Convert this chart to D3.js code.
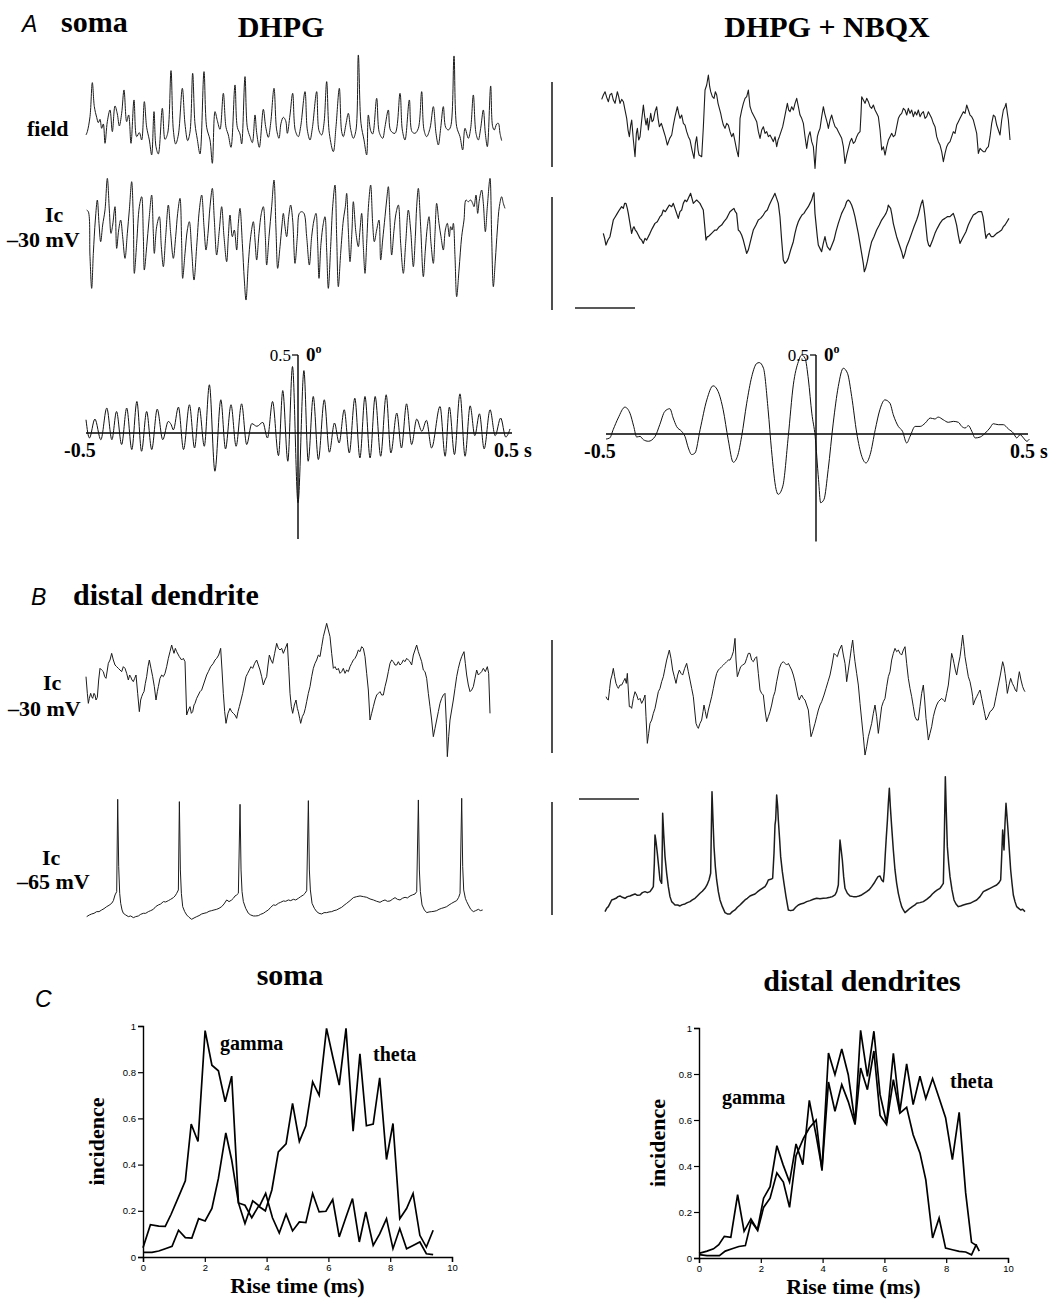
<!DOCTYPE html>
<html><head><meta charset="utf-8">
<script src="https://cdn.jsdelivr.net/npm/d3@7"></script>
<style>body{margin:0;background:#fff}svg{display:block}</style>
</head><body>
<svg id="fig" width="1058" height="1299"></svg>
<script>
// ---------- Recorded traces: [time (ms), amplitude (units, 3 per px)] ----------
const fieldDHPG = [[0,-5],[4,5],[12,50],[19,152],[25,80],[32,48],[37,32],[42,42],[47,15],[52,28],[57,-30],[64,35],[72,70],[79,5],[87,82],[94,58],[100,22],[107,60],[114,130],[122,35],[128,55],[135,-30],[144,100],[152,-10],[160,2],[167,-20],[175,95],[182,18],[190,-20],[197,-65],[204,65],[210,-40],[217,-62],[229,75],[237,-18],[245,0],[255,188],[262,10],[269,-32],[277,-5],[289,135],[297,28],[305,-22],[312,4],[320,180],[327,28],[334,-18],[342,-62],[354,185],[362,18],[372,-20],[379,-90],[387,65],[394,38],[402,12],[412,120],[420,18],[427,-5],[435,-42],[447,145],[454,18],[462,-2],[467,-32],[477,170],[484,18],[492,-10],[499,-28],[507,55],[512,2],[520,-42],[532,72],[539,20],[547,-12],[554,30],[564,135],[572,10],[579,-15],[585,30],[592,48],[599,38],[604,0],[612,55],[620,120],[628,8],[637,-10],[644,20],[657,125],[664,10],[672,-20],[679,15],[692,125],[699,8],[707,-5],[714,30],[722,155],[730,0],[742,-55],[750,20],[760,135],[767,5],[772,-10],[780,28],[787,60],[794,12],[802,-15],[810,10],[817,235],[825,30],[834,-20],[842,-65],[847,55],[854,8],[860,-2],[872,105],[880,2],[890,-15],[897,20],[907,70],[914,8],[927,0],[942,120],[949,10],[957,-20],[970,100],[978,5],[987,0],[997,15],[1007,125],[1014,10],[1022,-10],[1032,15],[1042,80],[1050,0],[1057,-35],[1064,15],[1072,80],[1079,18],[1087,10],[1094,20],[1104,232],[1112,20],[1122,-10],[1130,-50],[1137,15],[1147,-15],[1154,15],[1162,115],[1170,0],[1177,-20],[1184,15],[1192,70],[1198,0],[1204,-40],[1214,142],[1220,20],[1225,10],[1232,28],[1237,30],[1242,0],[1247,-22]];

const somaIcDHPG = [[2,80],[7,75],[12,-60],[17,-155],[22,-50],[28,50],[34,110],[39,40],[44,-15],[50,35],[57,80],[64,175],[70,80],[75,10],[80,35],[87,90],[92,-35],[98,20],[104,50],[110,0],[117,-65],[124,10],[130,80],[137,165],[142,50],[145,-110],[152,-20],[160,90],[167,120],[172,0],[175,-100],[182,-30],[189,50],[197,125],[202,10],[205,-50],[212,30],[220,60],[226,-30],[232,-90],[239,0],[247,95],[254,10],[262,-65],[269,0],[275,70],[282,115],[287,-20],[290,-125],[297,-50],[304,20],[310,45],[317,-40],[324,-130],[332,-30],[340,80],[347,125],[354,30],[360,-40],[366,10],[372,90],[379,145],[385,50],[392,-55],[400,20],[407,90],[414,0],[422,-75],[427,0],[432,65],[439,0],[445,20],[452,-40],[457,40],[462,85],[469,-20],[475,-130],[480,-190],[487,-80],[494,0],[502,45],[507,-10],[512,-70],[519,10],[526,70],[532,90],[538,0],[542,-85],[549,0],[557,90],[564,170],[570,20],[575,-95],[582,-30],[588,35],[592,70],[597,30],[602,0],[608,60],[614,95],[620,50],[627,-80],[634,0],[640,70],[647,75],[654,70],[662,0],[670,-85],[677,0],[684,50],[690,70],[695,-20],[699,-125],[705,-20],[712,40],[717,60],[722,-40],[727,-155],[734,-30],[740,90],[747,155],[752,0],[757,-150],[764,-50],[772,50],[778,90],[782,130],[787,20],[792,-75],[798,20],[802,105],[810,10],[817,-30],[822,20],[827,70],[832,-30],[837,-110],[842,-20],[848,100],[854,155],[860,40],[865,-15],[872,20],[879,50],[884,-70],[890,-10],[897,60],[902,110],[907,150],[912,50],[917,-55],[924,20],[930,70],[937,95],[944,-20],[952,-110],[959,-20],[967,80],[974,20],[982,-90],[988,0],[992,90],[997,145],[1004,30],[1012,-120],[1018,-40],[1024,30],[1029,60],[1035,-20],[1042,-80],[1047,10],[1052,100],[1059,40],[1065,0],[1072,-40],[1078,20],[1084,40],[1090,0],[1094,30],[1098,20],[1102,40],[1107,-60],[1112,-180],[1119,-100],[1127,0],[1134,50],[1140,110],[1147,105],[1154,110],[1160,100],[1164,90],[1170,125],[1175,70],[1180,110],[1187,140],[1192,100],[1198,15],[1204,90],[1212,175],[1217,0],[1222,-150],[1228,-70],[1234,20],[1240,90],[1247,120],[1252,100],[1257,85]];

const fieldNBQX = [[0,82],[5,95],[10,105],[15,88],[20,75],[25,96],[30,100],[35,80],[40,70],[47,105],[51,90],[55,70],[60,82],[65,75],[70,50],[75,25],[79,-10],[83,-30],[87,5],[90,20],[95,-40],[100,-90],[104,-20],[107,-5],[111,-40],[115,-30],[120,20],[125,65],[129,30],[133,5],[137,25],[140,-10],[147,40],[151,15],[155,20],[160,45],[165,60],[169,25],[173,0],[179,10],[185,-10],[191,-30],[197,-55],[204,-35],[210,-25],[215,5],[220,30],[227,60],[231,40],[235,25],[240,35],[245,10],[250,5],[255,-15],[260,-30],[265,-40],[271,-70],[277,-95],[281,-50],[285,-30],[289,-70],[292,-85],[300,-90],[305,0],[310,110],[315,125],[320,155],[324,120],[327,105],[332,90],[337,85],[341,105],[345,95],[349,70],[353,55],[357,40],[360,25],[365,5],[370,-5],[375,10],[380,5],[385,-15],[390,-30],[395,-20],[400,-45],[405,-70],[410,-90],[413,-40],[415,25],[420,50],[425,70],[430,85],[435,90],[440,110],[445,60],[450,45],[455,35],[460,25],[465,15],[470,-15],[475,-35],[480,-10],[485,0],[490,-20],[495,-15],[500,-30],[505,-25],[510,-35],[515,-45],[520,-30],[525,-60],[529,-40],[533,-30],[538,-15],[543,0],[547,20],[550,35],[554,55],[557,70],[561,50],[565,45],[570,60],[575,50],[580,70],[585,85],[590,60],[595,35],[600,25],[605,10],[610,-30],[615,-65],[620,-30],[625,-15],[630,-45],[635,-60],[640,-125],[644,-60],[647,-30],[651,-15],[655,-5],[660,30],[665,60],[669,40],[673,25],[677,10],[680,-5],[685,20],[690,35],[695,15],[700,0],[705,-5],[710,-15],[715,-25],[720,-35],[725,-60],[730,-110],[735,-85],[740,-65],[745,-45],[750,-35],[755,-50],[760,-45],[765,-30],[770,-20],[775,-15],[778,40],[780,90],[785,80],[790,70],[795,85],[800,75],[805,60],[810,55],[815,65],[820,50],[825,40],[830,30],[835,-10],[840,-70],[845,-60],[850,-85],[855,-60],[860,-40],[865,-30],[870,-20],[875,-30],[880,-25],[885,0],[890,25],[895,35],[900,40],[905,55],[910,50],[915,35],[920,55],[925,40],[930,50],[935,30],[940,45],[945,35],[950,50],[955,30],[960,40],[965,45],[970,25],[975,30],[980,45],[985,35],[990,25],[995,10],[1000,0],[1005,-30],[1010,-45],[1015,-55],[1020,-75],[1025,-105],[1030,-80],[1035,-60],[1040,-50],[1045,-45],[1050,-30],[1055,-15],[1060,-20],[1065,5],[1070,15],[1075,25],[1080,35],[1085,45],[1090,40],[1095,65],[1100,50],[1105,35],[1110,30],[1115,20],[1120,0],[1125,-20],[1130,-80],[1135,-65],[1140,-70],[1145,-75],[1150,-75],[1155,-65],[1160,-60],[1165,-30],[1170,10],[1175,35],[1180,30],[1185,5],[1190,-10],[1195,-25],[1200,20],[1205,50],[1210,60],[1213,70],[1217,40],[1220,20],[1225,-40]];

const somaIcNBQX = [[0,-20],[4,-35],[8,-55],[14,-40],[20,-30],[25,-5],[30,20],[36,30],[42,40],[48,50],[55,60],[60,55],[64,70],[68,70],[72,55],[75,40],[80,10],[85,-20],[89,-5],[92,0],[96,-10],[100,-15],[105,-25],[110,-35],[115,-40],[120,-50],[125,-35],[130,-40],[135,-30],[140,-20],[147,-5],[155,10],[162,15],[170,30],[175,35],[180,50],[186,45],[192,55],[198,65],[205,60],[210,70],[215,55],[220,40],[225,25],[230,45],[235,50],[240,70],[245,80],[250,75],[255,85],[262,100],[266,85],[270,70],[275,75],[280,80],[285,75],[290,70],[295,60],[300,50],[304,5],[308,-40],[312,-30],[315,-30],[320,-25],[325,-20],[330,-15],[335,-10],[340,-10],[348,0],[355,5],[362,15],[370,25],[375,35],[380,45],[386,50],[392,55],[396,45],[400,40],[405,-10],[410,-15],[415,-25],[420,-40],[425,-60],[430,-80],[435,-70],[440,-50],[445,-30],[450,-10],[458,5],[465,20],[472,25],[480,35],[486,45],[492,50],[498,65],[505,80],[510,90],[515,100],[520,85],[525,70],[530,30],[535,-40],[540,-100],[545,-110],[550,-105],[555,-95],[562,-70],[570,-45],[575,-20],[580,0],[585,15],[590,25],[596,35],[602,40],[608,50],[615,60],[620,70],[625,80],[629,95],[632,102],[635,40],[638,10],[642,-30],[645,-55],[650,-65],[655,-75],[660,-50],[665,-30],[668,-45],[672,-60],[676,-65],[680,-70],[686,-55],[692,-40],[698,-15],[705,10],[710,25],[715,40],[720,50],[725,60],[730,75],[735,80],[740,75],[745,65],[750,50],[755,30],[760,5],[765,-20],[770,-50],[775,-80],[780,-110],[783,-135],[787,-125],[792,-105],[798,-75],[805,-45],[812,-30],[820,-10],[828,5],[835,20],[842,30],[848,40],[852,50],[855,65],[858,60],[862,55],[866,35],[870,10],[875,-10],[880,-30],[885,-45],[890,-60],[895,-75],[900,-95],[905,-80],[910,-60],[918,-40],[925,-20],[932,0],[940,20],[945,35],[950,55],[954,70],[958,80],[962,55],[965,30],[968,0],[972,-40],[976,-55],[980,-60],[988,-40],[995,-20],[1002,-5],[1010,10],[1017,20],[1025,25],[1032,30],[1040,30],[1045,35],[1050,40],[1055,25],[1060,5],[1065,-25],[1070,-50],[1075,-40],[1080,-30],[1088,-15],[1095,5],[1102,20],[1110,35],[1118,40],[1125,45],[1130,45],[1135,45],[1139,30],[1142,10],[1145,-15],[1148,-35],[1152,-25],[1158,-20],[1164,-30],[1170,-30],[1175,-25],[1180,-20],[1188,-15],[1195,-10],[1200,0],[1205,5],[1211,15],[1217,25]];

const dendIc30DHPG = [[0,10],[4,-40],[7,-70],[10,-55],[14,-40],[17,-50],[20,-55],[24,-40],[27,-45],[30,-60],[34,-52],[38,0],[42,35],[47,30],[52,25],[56,10],[60,5],[64,30],[67,50],[72,60],[77,80],[82,60],[87,45],[92,40],[97,35],[102,30],[107,25],[112,40],[117,35],[122,20],[127,0],[131,15],[134,10],[138,0],[142,-5],[146,5],[150,15],[155,-40],[160,-95],[164,-60],[167,-50],[171,-40],[174,-35],[178,-10],[182,10],[186,40],[190,60],[195,35],[200,10],[205,-20],[210,-60],[214,-35],[217,-20],[222,5],[227,15],[232,10],[237,20],[242,40],[247,65],[252,85],[257,105],[261,90],[264,80],[268,95],[272,85],[280,70],[287,60],[292,65],[297,55],[302,-105],[307,-90],[312,-80],[316,-100],[320,-95],[324,-75],[327,-70],[332,-55],[337,-45],[342,-35],[347,-30],[352,-15],[357,0],[362,15],[367,25],[374,40],[382,50],[387,60],[392,65],[398,75],[404,95],[408,30],[412,-40],[416,-95],[420,-130],[426,-100],[432,-85],[437,-95],[442,-100],[447,-105],[452,-115],[456,-95],[460,-80],[465,-60],[470,-40],[475,-15],[480,10],[485,20],[490,30],[495,40],[500,35],[506,50],[512,60],[517,45],[522,30],[527,10],[532,-15],[537,0],[542,10],[546,45],[550,75],[555,60],[560,50],[566,80],[572,110],[577,95],[582,90],[587,95],[592,80],[598,95],[604,110],[608,40],[612,-40],[616,-80],[620,-100],[625,-75],[630,-60],[634,-85],[637,-95],[641,-115],[644,-130],[649,-110],[654,-100],[658,-85],[662,-65],[667,-40],[672,-20],[677,10],[682,35],[687,50],[692,60],[697,75],[702,70],[707,100],[712,130],[717,150],[722,170],[727,150],[732,130],[737,80],[742,35],[747,40],[752,30],[757,35],[762,20],[767,25],[772,35],[777,20],[782,30],[787,25],[792,40],[797,50],[802,60],[807,65],[812,75],[817,90],[822,85],[827,100],[832,95],[837,70],[842,20],[847,-30],[852,-120],[857,-100],[862,-80],[867,-60],[872,-45],[877,-40],[882,-35],[887,-45],[892,-45],[897,-20],[902,0],[907,25],[912,50],[917,60],[922,55],[927,45],[932,45],[937,55],[942,45],[947,50],[952,60],[957,55],[962,65],[967,60],[972,55],[977,45],[982,75],[987,90],[992,105],[997,85],[1002,70],[1007,55],[1012,30],[1017,25],[1022,5],[1027,-40],[1032,-80],[1037,-120],[1042,-170],[1047,-145],[1052,-120],[1057,-95],[1062,-70],[1067,-55],[1072,-45],[1077,-40],[1081,-130],[1084,-230],[1088,-170],[1092,-120],[1097,-90],[1102,-60],[1107,-25],[1112,10],[1117,35],[1122,55],[1127,70],[1134,85],[1138,50],[1142,15],[1147,-15],[1152,-35],[1157,-30],[1162,-20],[1167,5],[1172,30],[1177,15],[1182,20],[1187,25],[1192,35],[1198,25],[1204,40],[1208,20],[1212,-100]];

const dendIc30NBQX = [[0,0],[4,-8],[7,-10],[11,25],[14,50],[18,65],[22,85],[26,60],[30,40],[34,30],[37,25],[42,35],[47,35],[52,45],[57,55],[61,40],[64,70],[67,20],[70,-30],[74,-30],[77,-35],[82,-5],[87,15],[92,5],[97,-10],[102,-5],[107,-20],[112,-10],[117,5],[120,-60],[124,-140],[128,-110],[132,-80],[137,-70],[142,-50],[147,-35],[152,-10],[157,15],[162,25],[167,45],[172,60],[177,85],[182,110],[186,125],[190,140],[195,115],[200,80],[205,60],[210,40],[215,65],[220,80],[225,70],[230,65],[236,85],[242,100],[247,75],[252,50],[257,25],[262,0],[266,-40],[270,-80],[274,-90],[277,-95],[282,-80],[287,-70],[291,-45],[294,-25],[298,-45],[302,-65],[307,-40],[312,-20],[317,0],[322,25],[327,50],[332,70],[337,80],[342,85],[347,90],[352,95],[357,100],[362,105],[367,110],[372,110],[377,120],[382,135],[387,175],[390,110],[394,60],[399,75],[404,90],[410,95],[417,100],[422,115],[427,130],[432,130],[437,110],[442,105],[447,115],[452,120],[457,70],[462,20],[467,10],[472,5],[477,-40],[482,-75],[487,-60],[492,-45],[497,-25],[502,0],[507,15],[512,45],[516,65],[520,85],[526,100],[532,105],[537,100],[542,95],[547,100],[552,90],[557,80],[562,65],[567,45],[572,20],[576,0],[580,-10],[584,0],[587,5],[592,-5],[597,-10],[602,-25],[607,-40],[611,-80],[615,-120],[620,-105],[627,-80],[632,-60],[637,-40],[642,-25],[647,-15],[654,5],[660,25],[666,45],[672,65],[678,95],[684,130],[689,125],[694,120],[700,140],[707,155],[712,125],[717,100],[720,70],[722,45],[727,80],[732,115],[736,145],[740,170],[744,130],[747,105],[752,70],[757,35],[762,-20],[767,-70],[772,-120],[777,-175],[782,-150],[787,-120],[792,-100],[797,-80],[802,-50],[807,-25],[812,-60],[817,-110],[822,-70],[827,-30],[832,-15],[837,-5],[842,30],[847,60],[852,75],[857,110],[862,130],[867,145],[872,135],[877,140],[882,130],[887,125],[892,140],[897,150],[902,100],[907,55],[912,25],[917,0],[922,-30],[927,-60],[932,-70],[937,-70],[942,-30],[947,10],[952,35],[956,-10],[960,-65],[964,-100],[967,-130],[972,-110],[977,-90],[982,-60],[987,-40],[992,-25],[997,-15],[1002,-10],[1007,-5],[1012,-10],[1017,-15],[1022,10],[1027,35],[1032,80],[1037,130],[1041,115],[1044,100],[1048,80],[1052,65],[1057,95],[1062,120],[1066,150],[1070,185],[1074,150],[1077,120],[1082,90],[1087,60],[1092,45],[1097,20],[1100,0],[1102,-25],[1107,-10],[1112,0],[1117,10],[1122,20],[1127,-5],[1132,-30],[1136,-50],[1140,-70],[1146,-60],[1152,-45],[1158,-40],[1164,-30],[1170,0],[1177,35],[1183,65],[1190,105],[1194,90],[1197,70],[1201,40],[1204,10],[1209,35],[1214,55],[1219,40],[1224,30],[1228,20],[1232,15],[1236,50],[1240,75],[1245,50],[1250,30],[1254,20],[1257,15]];

const dendIc65DHPG = [[0,-10],[8,-5],[15,-2],[22,0],[30,5],[37,5],[45,10],[52,14],[60,20],[67,24],[75,30],[80,38],[85,55],[90,65],[93,342],[96,140],[99,60],[102,30],[106,10],[110,0],[117,-5],[125,-10],[132,-8],[140,-13],[147,-10],[155,-8],[162,-3],[170,0],[177,0],[185,5],[192,8],[200,12],[207,20],[215,25],[222,28],[230,35],[237,34],[245,38],[252,42],[260,47],[265,52],[270,60],[275,70],[278,335],[281,130],[284,60],[288,20],[294,5],[300,-5],[307,-12],[315,-18],[322,-14],[330,-10],[337,-7],[345,-2],[352,0],[360,2],[367,6],[375,8],[382,10],[390,12],[397,15],[405,20],[412,28],[420,40],[427,35],[435,40],[440,45],[445,52],[450,55],[455,60],[460,327],[463,130],[466,65],[470,35],[477,15],[485,0],[492,-5],[500,-8],[507,-8],[515,-7],[522,-3],[530,0],[537,5],[545,10],[552,18],[560,25],[567,24],[575,30],[582,33],[590,37],[597,36],[605,40],[612,38],[620,42],[627,40],[635,45],[642,50],[650,55],[655,60],[660,68],[665,338],[668,130],[671,70],[676,30],[683,15],[690,5],[697,0],[705,-2],[712,2],[720,2],[727,4],[735,5],[742,8],[750,10],[757,14],[765,18],[772,24],[780,30],[790,38],[800,47],[810,50],[820,52],[830,50],[840,48],[850,43],[860,40],[870,36],[880,33],[887,37],[895,40],[902,36],[910,37],[917,42],[925,47],[932,42],[940,40],[947,45],[955,48],[962,46],[970,52],[977,55],[985,58],[990,65],[995,340],[998,130],[1001,65],[1006,25],[1013,10],[1020,2],[1027,4],[1035,5],[1042,6],[1050,8],[1057,12],[1065,15],[1072,17],[1080,20],[1087,25],[1095,30],[1102,34],[1110,38],[1116,48],[1120,60],[1125,345],[1128,140],[1131,70],[1136,45],[1140,35],[1145,25],[1152,12],[1160,5],[1167,8],[1175,12],[1181,8],[1188,10]];

const dendIc65NBQX = [[0,-25],[5,-15],[10,-10],[15,0],[20,10],[26,12],[33,15],[39,20],[45,22],[52,18],[60,15],[67,20],[75,22],[82,25],[90,28],[97,24],[105,25],[112,32],[120,35],[127,32],[135,35],[140,42],[145,50],[148,120],[150,205],[153,185],[157,150],[161,110],[165,70],[170,60],[172,180],[173,270],[176,210],[180,140],[185,90],[190,50],[195,20],[200,5],[205,0],[210,-5],[218,-5],[225,-8],[232,-4],[240,-2],[247,2],[255,5],[262,10],[270,15],[277,22],[285,30],[292,36],[300,45],[306,55],[312,70],[317,90],[319,220],[321,335],[324,250],[327,170],[331,110],[335,70],[340,35],[345,10],[352,-10],[360,-28],[367,-32],[375,-32],[382,-25],[390,-20],[397,-12],[405,-5],[412,2],[420,10],[427,15],[435,22],[442,25],[450,28],[457,34],[465,40],[472,45],[480,50],[485,58],[490,70],[497,72],[503,75],[507,150],[510,235],[512,250],[515,325],[518,290],[520,250],[524,190],[527,140],[532,95],[537,60],[543,20],[550,-20],[557,-22],[565,-20],[572,-12],[580,-5],[587,-2],[595,0],[605,5],[615,8],[625,12],[635,15],[645,14],[655,15],[665,16],[675,18],[682,20],[690,25],[695,35],[700,55],[703,140],[705,190],[708,165],[712,130],[716,80],[720,45],[727,30],[735,22],[745,20],[755,20],[762,22],[770,25],[777,30],[785,35],[792,40],[800,50],[807,60],[813,70],[819,80],[825,82],[830,70],[835,65],[838,95],[841,150],[844,200],[847,245],[850,300],[853,345],[856,290],[860,230],[865,160],[870,100],[875,60],[880,30],[885,8],[890,-10],[895,-20],[900,-28],[907,-22],[915,-15],[922,-10],[930,-5],[935,0],[945,2],[955,5],[965,12],[975,20],[982,28],[990,35],[997,40],[1005,45],[1010,52],[1015,60],[1018,200],[1021,380],[1024,270],[1027,170],[1031,120],[1035,80],[1041,40],[1047,10],[1053,-2],[1060,-10],[1067,-8],[1075,-5],[1085,-2],[1095,0],[1105,5],[1115,10],[1125,20],[1135,35],[1145,40],[1155,45],[1165,50],[1175,55],[1182,62],[1187,70],[1190,140],[1193,220],[1195,190],[1197,160],[1200,240],[1203,300],[1206,260],[1209,220],[1213,160],[1217,100],[1221,60],[1225,25],[1230,5],[1235,-10],[1241,-15],[1247,-20],[1253,-18],[1260,-25]];

// ---------- Cross-correlograms: [lag (ms), correlation] ----------
const corrDHPG = [[-500,0.085],[-492,-0.032],[-479,0.089],[-465,-0.043],[-451,0.16],[-439,-0.043],[-428,0.138],[-416,-0.074],[-404,0.16],[-392,-0.106],[-380,0.202],[-369,-0.117],[-357,0.138],[-345,-0.106],[-332,0.153],[-319,-0.043],[-306,0.074],[-299,0.053],[-294,0.02],[-282,0.166],[-270,-0.106],[-256,0.181],[-244,-0.096],[-233,0.166],[-221,-0.085],[-209,0.309],[-196,-0.245],[-182,0.213],[-171,-0.102],[-158,0.181],[-146,-0.085],[-133,0.187],[-121,-0.074],[-109,0.06],[-97,0.043],[-83,0.068],[-72,-0.032],[-60,0.202],[-46,-0.145],[-36,0.272],[-24,-0.181],[-13,0.426],[0,-0.447],[14,0.4],[24,-0.181],[36,0.234],[48,-0.17],[62,0.213],[74,-0.123],[86,0.064],[97,-0.064],[109,0.149],[121,-0.128],[134,0.223],[146,-0.16],[158,0.234],[170,-0.16],[182,0.234],[195,-0.149],[208,0.245],[219,-0.128],[233,0.128],[244,-0.096],[256,0.187],[268,-0.074],[280,0.089],[292,0.011],[303,0.081],[315,-0.096],[335,0.17],[347,-0.149],[357,0.166],[369,-0.138],[382,0.251],[394,-0.149],[406,0.174],[417,-0.017],[428,0.123],[439,-0.102],[453,0.149],[465,-0.017],[478,0.096],[490,-0.026],[500,0.026]];

const corrNBQX = [[-500,-0.032],[-491,-0.025],[-483,0.027],[-471,0.101],[-455,0.17],[-443,0.132],[-434,0.048],[-427,-0.019],[-419,-0.015],[-411,-0.036],[-399,-0.046],[-383,-0.015],[-372,0.059],[-360,0.143],[-348,0.16],[-340,0.101],[-332,0.048],[-320,0.017],[-312,-0.015],[-304,-0.088],[-296,-0.13],[-288,-0.12],[-276,0.027],[-260,0.216],[-245,0.305],[-233,0.269],[-221,0.153],[-209,-0.036],[-197,-0.179],[-187,-0.141],[-177,-0.015],[-165,0.195],[-153,0.363],[-141,0.447],[-135,0.452],[-125,0.416],[-114,0.153],[-106,-0.099],[-95,-0.351],[-90,-0.382],[-79,-0.33],[-66,-0.015],[-54,0.311],[-42,0.458],[-34,0.5],[-26,0.479],[-18,0.342],[-10,0.132],[-2,-0.015],[6,-0.288],[11,-0.435],[19,-0.414],[29,-0.225],[41,0.069],[53,0.3],[65,0.416],[75,0.384],[85,0.237],[97,0.006],[109,-0.141],[119,-0.183],[129,-0.13],[141,0.027],[152,0.153],[164,0.216],[176,0.195],[184,0.122],[196,0.048],[206,0.017],[216,-0.057],[224,-0.015],[236,0.048],[248,0.048],[260,0.069],[272,0.101],[283,0.095],[291,0.107],[303,0.09],[315,0.074],[327,0.08],[339,0.074],[347,0.048],[355,0.038],[363,0.053],[371,0.017],[379,-0.025],[391,-0.019],[403,0.006],[414,0.038],[422,0.065],[434,0.059],[446,0.059],[458,0.032],[470,0.006],[478,-0.025],[486,-0.004],[494,-0.025],[502,-0.046],[508,-0.032]];
const corrTicks = ['-0.5', '0.5 s'];

// ---------- Rise-time distributions: [rise time (ms), incidence] ----------
const somaGamma = [[0,0.04],[0.24,0.14],[0.51,0.134],[0.72,0.133],[0.91,0.185],[1.15,0.26],[1.37,0.33],[1.56,0.575],[1.78,0.5],[2.01,0.98],[2.23,0.83],[2.44,0.806],[2.66,0.672],[2.87,0.783],[3.09,0.234],[3.3,0.145],[3.55,0.243],[3.77,0.22],[3.97,0.275],[4.19,0.17],[4.41,0.104],[4.63,0.185],[4.84,0.113],[5.06,0.152],[5.27,0.149],[5.49,0.275],[5.7,0.195],[5.92,0.198],[6.14,0.249],[6.35,0.087],[6.57,0.173],[6.78,0.253],[7.0,0.065],[7.21,0.195],[7.45,0.05],[7.66,0.1],[7.88,0.166],[8.09,0.036],[8.31,0.123],[8.53,0.036],[8.74,0.05],[8.96,0.065],[9.17,0.014],[9.39,0.01]];
const somaTheta = [[0,0.02],[0.29,0.02],[0.51,0.026],[0.72,0.036],[0.94,0.046],[1.15,0.116],[1.37,0.084],[1.58,0.082],[1.8,0.166],[2.01,0.156],[2.23,0.21],[2.44,0.34],[2.68,0.537],[2.87,0.42],[3.09,0.234],[3.3,0.224],[3.52,0.17],[3.74,0.22],[3.96,0.2],[4.17,0.29],[4.38,0.455],[4.63,0.49],[4.84,0.665],[5.06,0.5],[5.27,0.568],[5.49,0.758],[5.7,0.7],[5.94,0.99],[6.14,0.867],[6.35,0.744],[6.57,0.99],[6.8,0.545],[7.02,0.88],[7.23,0.568],[7.45,0.575],[7.66,0.776],[7.88,0.422],[8.09,0.578],[8.31,0.166],[8.53,0.21],[8.74,0.275],[8.96,0.094],[9.17,0.043],[9.39,0.116]];
const dendTheta = [[0,0.02],[0.26,0.03],[0.47,0.04],[0.64,0.058],[0.82,0.094],[1.03,0.09],[1.25,0.275],[1.46,0.116],[1.68,0.17],[1.89,0.123],[2.09,0.26],[2.3,0.31],[2.52,0.488],[2.72,0.406],[2.93,0.33],[3.14,0.496],[3.36,0.406],[3.57,0.685],[3.79,0.533],[3.98,0.388],[4.19,0.891],[4.4,0.797],[4.62,0.909],[4.83,0.797],[5.05,0.587],[5.23,0.99],[5.45,0.79],[5.66,0.986],[5.86,0.71],[6.07,0.587],[6.29,0.89],[6.5,0.637],[6.72,0.844],[6.93,0.667],[7.15,0.79],[7.34,0.693],[7.56,0.78],[7.77,0.696],[7.98,0.61],[8.2,0.428],[8.42,0.633],[8.63,0.283],[8.82,0.068],[8.98,0.054],[9.07,0.03]];
const dendGamma = [[0,0.015],[0.26,0.01],[0.47,0.01],[0.66,0.01],[0.85,0.03],[1.07,0.04],[1.29,0.05],[1.5,0.054],[1.69,0.16],[1.9,0.12],[2.09,0.22],[2.3,0.26],[2.52,0.37],[2.73,0.33],[2.93,0.22],[3.14,0.445],[3.38,0.52],[3.57,0.565],[3.79,0.6],[3.98,0.38],[4.19,0.765],[4.4,0.638],[4.62,0.754],[4.83,0.68],[5.05,0.58],[5.23,0.826],[5.45,0.732],[5.66,0.9],[5.86,0.62],[6.07,0.58],[6.29,0.775],[6.5,0.63],[6.72,0.655],[6.93,0.536],[7.15,0.457],[7.34,0.34],[7.56,0.087],[7.77,0.174],[7.98,0.043],[8.2,0.036],[8.42,0.029],[8.63,0.026],[8.82,0.014],[8.98,0.06]];
const incidenceTicks = [0, 0.2, 0.4, 0.6, 0.8, 1];
const riseTicks = [0, 2, 4, 6, 8, 10];

// Scale-bar sizes, in the same units as the traces
const timeBarMs = 180;
const fieldBarAmp = 255;
const icBarAmp = 339;

// ---------- drawing ----------
const svg = d3.select('#fig');
const SERIF = '"Liberation Serif","Times New Roman",Times,serif';
const SANS = '"Liberation Sans",Arial,Helvetica,sans-serif';
const PX = 1 / 3; // pixels per ms and per amplitude unit

function label(x, y, str, o = {}) {
  return svg.append('text').attr('x', x).attr('y', y)
    .attr('font-family', o.family || SERIF)
    .attr('font-size', o.size || 22)
    .attr('font-weight', o.weight || 'bold')
    .attr('font-style', o.style || 'normal')
    .attr('text-anchor', o.anchor || 'start')
    .attr('fill', '#000')
    .text(str);
}

// smooth = true rounds the fast gamma oscillations
function trace(data, x0, y0, sw, smooth) {
  const x = d3.scaleLinear().domain([0, 1]).range([x0, x0 + PX]);
  const y = d3.scaleLinear().domain([0, 1]).range([y0, y0 - PX]);
  const line = d3.line().x(d => x(d[0])).y(d => y(d[1]));
  if (smooth) line.curve(d3.curveCatmullRom.alpha(0.5));
  svg.append('path').datum(data)
    .attr('d', line)
    .attr('fill', 'none').attr('stroke', '#1c1c1c')
    .attr('stroke-width', sw).attr('stroke-linejoin', 'round');
}

function vBar(x, top, amp) {
  const y = d3.scaleLinear().domain([0, 1]).range([top, top + PX]);
  svg.append('line').attr('x1', x).attr('x2', x).attr('y1', y(0)).attr('y2', y(amp))
    .attr('stroke', '#222').attr('stroke-width', 1.6);
}
function hBar(left, yPos, ms) {
  const x = d3.scaleLinear().domain([0, 1]).range([left, left + PX]);
  svg.append('line').attr('x1', x(0)).attr('x2', x(ms)).attr('y1', yPos).attr('y2', yPos)
    .attr('stroke', '#222').attr('stroke-width', 1.6);
}

// Panel headings
label(22, 32, 'A', { family: SANS, weight: 'normal', style: 'italic', size: 23 });
label(61, 32, 'soma', { size: 30 });
label(281, 37, 'DHPG', { size: 30, anchor: 'middle' });
label(827, 37, 'DHPG + NBQX', { size: 30, anchor: 'middle' });
label(31, 605, 'B', { family: SANS, weight: 'normal', style: 'italic', size: 23 });
label(73, 605, 'distal dendrite', { size: 30 });
label(35, 1007, 'C', { family: SANS, weight: 'normal', style: 'italic', size: 23 });

// Row labels
label(27, 136, 'field');
label(45, 222, 'Ic');
label(7, 247, '\u201330 mV');
label(43, 690, 'Ic');
label(8, 716, '\u201330 mV');
label(42, 865, 'Ic');
label(17, 889, '\u201365 mV');

// Panel A traces
trace(fieldDHPG, 86, 133.3, 1, true);
trace(somaIcDHPG, 86, 236.7, 1, true);
trace(fieldNBQX, 601.7, 126.7, 1.1, false);
trace(somaIcNBQX, 603.3, 226.7, 1.2, false);
vBar(552, 82, fieldBarAmp);
vBar(552, 197, icBarAmp);
hBar(575, 308, timeBarMs);

// Panel B traces
trace(dendIc30DHPG, 86, 680, 1, false);
trace(dendIc30NBQX, 606, 696.7, 1, false);
trace(dendIc65DHPG, 86.7, 913.3, 1, false);
trace(dendIc65NBQX, 605, 903.3, 1.5, false);
vBar(552, 640, icBarAmp);
vBar(552, 802, icBarAmp);
hBar(579, 799, timeBarMs);

// Cross-correlograms
function correlogram(data, x0, x1, yZero, yHalf) {
  const x = d3.scaleLinear().domain([-500, 500]).range([x0, x1]);
  const y = d3.scaleLinear().domain([0, 0.5]).range([yZero, yHalf]);
  const g = svg.append('g');
  g.append('line').attr('x1', x(-500)).attr('x2', x(500) + 2).attr('y1', y(0)).attr('y2', y(0))
    .attr('stroke', '#000').attr('stroke-width', 1.4);
  g.append('line').attr('x1', x(0)).attr('x2', x(0)).attr('y1', y(0.5)).attr('y2', y(-0.68))
    .attr('stroke', '#000').attr('stroke-width', 1.4);
  g.append('line').attr('x1', x(0) - 6).attr('x2', x(0)).attr('y1', y(0.5)).attr('y2', y(0.5))
    .attr('stroke', '#000').attr('stroke-width', 1.2);
  g.append('path').datum(data)
    .attr('d', d3.line().curve(d3.curveMonotoneX).x(d => x(d[0])).y(d => y(d[1])))
    .attr('fill', 'none').attr('stroke', '#111').attr('stroke-width', 1);
  label(x(0) - 7, y(0.5) + 6, '0.5', { weight: 'normal', size: 17, anchor: 'end' });
  const z = label(x(0) + 8, y(0.5) + 6, '0', { size: 19 });
  z.append('tspan').attr('font-size', 12).attr('dy', -8).text('o');
  label(x(-500) - 22, y(0) + 24, corrTicks[0], { size: 20 });
  label(x(500) - 16, y(0) + 24, corrTicks[1], { size: 20 });
}
correlogram(corrDHPG, 86, 510, 433, 355);
correlogram(corrNBQX, 606, 1026, 434, 355);

// Rise-time distributions
function riseChart(gamma, theta, x0, x1, yBottom, yTop, title, titleX, gammaPos, thetaPos) {
  const x = d3.scaleLinear().domain([0, 10]).range([x0, x1]);
  const y = d3.scaleLinear().domain([0, 1]).range([yBottom, yTop]);
  const g = svg.append('g');
  const xa = g.append('g').attr('transform', `translate(0,${yBottom})`)
    .call(d3.axisBottom(x).tickValues(riseTicks).tickSize(5).tickPadding(2).tickFormat(d3.format('d')));
  const ya = g.append('g').attr('transform', `translate(${x0},0)`)
    .call(d3.axisLeft(y).tickValues(incidenceTicks).tickSize(5).tickPadding(2).tickFormat(d => String(d)));
  [xa, ya].forEach(a => {
    a.select('.domain').attr('stroke', '#000').attr('stroke-width', 1.4);
    a.selectAll('.tick line').attr('stroke', '#000').attr('stroke-width', 1.2);
    a.selectAll('.tick text').attr('font-family', SANS).attr('font-size', 9.5).attr('fill', '#000');
  });
  const line = d3.line().x(d => x(d[0])).y(d => y(d[1]));
  [gamma, theta].forEach(s => g.append('path').datum(s).attr('d', line)
    .attr('fill', 'none').attr('stroke', '#000').attr('stroke-width', 1.7).attr('stroke-linejoin', 'miter'));
  label(titleX, y(0.5), 'incidence', { size: 22 })
    .attr('transform', `rotate(-90 ${titleX} ${y(0.5)})`).attr('text-anchor', 'middle');
  label((x0 + x1) / 2, yBottom + 36, 'Rise time (ms)', { size: 22, anchor: 'middle' });
  label(title[1], title[2], title[0], { size: 30, anchor: 'middle' });
  label(gammaPos[0], gammaPos[1], 'gamma', { size: 20 });
  label(thetaPos[0], thetaPos[1], 'theta', { size: 20 });
}
riseChart(somaGamma, somaTheta, 143, 452, 1257, 1026, ['soma', 290, 985], 104, [220, 1050], [373, 1061]);
riseChart(dendGamma, dendTheta, 699, 1008, 1258, 1028, ['distal dendrites', 862, 991], 665, [722, 1104], [950, 1088]);
</script>
</body></html>
